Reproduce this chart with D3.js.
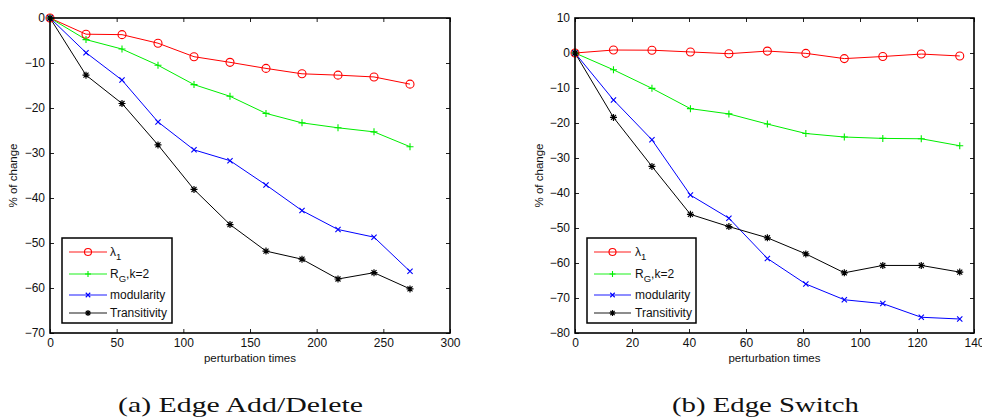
<!DOCTYPE html>
<html>
<head>
<meta charset="utf-8">
<script src="https://cdn.jsdelivr.net/npm/d3@7"></script>
<style>
  html, body { margin: 0; padding: 0; background: #fff; }
  svg { display: block; }
  text { font-family: "Liberation Sans", Arial, Helvetica, sans-serif; }
  .caption { font-family: "Liberation Serif", "DejaVu Serif", serif; }
</style>
</head>
<body>
<svg id="fig" width="982" height="418"></svg>
<script>
// ---- data: panel (a) edge add/delete ----
const addDelTimes = [0, 27, 54, 81, 108, 135, 162, 189, 216, 243, 270];
const addDelLambda = [0, -3.6, -3.7, -5.6, -8.6, -9.85, -11.2, -12.4, -12.7, -13.1, -14.7];
const addDelRG = [0, -4.8, -6.9, -10.5, -14.8, -17.4, -21.2, -23.3, -24.4, -25.3, -28.6];
const addDelModularity = [0, -7.7, -13.8, -23.1, -29.3, -31.7, -37.1, -42.8, -47.0, -48.7, -56.3];
const addDelTransitivity = [0, -12.7, -19.0, -28.2, -38.1, -45.9, -51.8, -53.6, -58.0, -56.6, -60.2];

// ---- data: panel (b) edge switch ----
const switchTimes = [0, 13.5, 27, 40.5, 54, 67.5, 81, 94.5, 108, 121.5, 135];
const switchLambda = [0, 0.85, 0.8, 0.3, -0.2, 0.55, -0.1, -1.6, -1.0, -0.3, -0.85];
const switchRG = [0, -4.8, -10.1, -15.9, -17.4, -20.3, -23.0, -24.0, -24.4, -24.5, -26.5];
const switchModularity = [0, -13.4, -24.8, -40.6, -47.2, -58.7, -66.0, -70.5, -71.6, -75.5, -76.0];
const switchTransitivity = [0, -18.4, -32.4, -46.1, -49.6, -52.8, -57.4, -62.8, -60.7, -60.7, -62.6];

// ---- axes ticks and labels ----
const addDelXTicks = [0, 50, 100, 150, 200, 250, 300];
const addDelYTicks = [0, -10, -20, -30, -40, -50, -60, -70];
const switchXTicks = [0, 20, 40, 60, 80, 100, 120, 140];
const switchYTicks = [10, 0, -10, -20, -30, -40, -50, -60, -70, -80];
const seriesNames = ["λ", "R", "modularity", "Transitivity"];
const seriesSubs = ["1", "G", null, null];
const seriesTails = ["", ",k=2", "", ""];
const seriesColors = ["#ff0000", "#00ee00", "#0000ff", "#000000"];
const seriesMarkers = ["circle", "plus", "cross", "star"];
const xLabel = "perturbation times";
const yLabel = "% of change";
const captions = ["(a) Edge Add/Delete", "(b) Edge Switch"];

const svg = d3.select("#fig");

function markerPath(kind, s) {
  const h = s / 2;
  if (kind === "plus") return `M${-h},0H${h}M0,${-h}V${h}`;
  if (kind === "cross") { const d = h * 0.75; return `M${-d},${-d}L${d},${d}M${-d},${d}L${d},${-d}`; }
  if (kind === "star") {
    const d = h * 0.72;
    return `M${-h},0H${h}M0,${-h}V${h}M${-d},${-d}L${d},${d}M${-d},${d}L${d},${-d}`;
  }
  return "";
}

function drawMarker(g, kind, color, x, y, size) {
  if (kind === "circle") {
    g.append("circle").attr("cx", x).attr("cy", y).attr("r", size / 2)
      .attr("fill", "none").attr("stroke", color).attr("stroke-width", 1.1);
  } else {
    g.append("path").attr("transform", `translate(${x},${y})`)
      .attr("d", markerPath(kind, size)).attr("fill", "none")
      .attr("stroke", color).attr("stroke-width", kind === "star" ? 1.2 : 1.1);
  }
}

function panel(opt) {
  const { left, right, top, bottom, xDomain, yDomain, xTicks, yTicks, times, series,
          legend, yLabelX, caption, captionX, captionW } = opt;
  const x = d3.scaleLinear().domain(xDomain).range([left, right]);
  const y = d3.scaleLinear().domain(yDomain).range([bottom, top]);
  const g = svg.append("g");

  const fmt = d3.format("d");
  const axB = g.append("g").attr("transform", `translate(0,${bottom})`)
    .call(d3.axisBottom(x).tickValues(xTicks).tickSize(-4).tickPadding(5).tickFormat(fmt));
  const axL = g.append("g").attr("transform", `translate(${left},0)`)
    .call(d3.axisLeft(y).tickValues(yTicks).tickSize(-4).tickPadding(5).tickFormat(fmt));
  const axT = g.append("g").attr("transform", `translate(0,${top})`)
    .call(d3.axisTop(x).tickValues(xTicks).tickSize(-4).tickFormat(""));
  const axR = g.append("g").attr("transform", `translate(${right},0)`)
    .call(d3.axisRight(y).tickValues(yTicks).tickSize(-4).tickFormat(""));
  [axB, axL, axT, axR].forEach(a => {
    a.select(".domain").remove();
    a.selectAll(".tick line").attr("stroke", "#222").attr("stroke-width", 1);
    a.selectAll(".tick text").attr("font-size", 12).attr("fill", "#111")
      .attr("font-family", "Liberation Sans, Arial, sans-serif");
  });

  // lines and markers
  series.forEach((vals, i) => {
    const pts = times.map((t, j) => [x(t), y(vals[j])]);
    g.append("path").attr("d", d3.line()(pts)).attr("fill", "none")
      .attr("stroke", seriesColors[i]).attr("stroke-width", 1);
  });
  series.forEach((vals, i) => {
    times.forEach((t, j) => drawMarker(g, seriesMarkers[i], seriesColors[i], x(t), y(vals[j]),
      seriesMarkers[i] === "circle" ? 8 : 7));
  });

  // frame
  g.append("rect").attr("x", left).attr("y", top).attr("width", right - left)
    .attr("height", bottom - top).attr("fill", "none").attr("stroke", "#000").attr("stroke-width", 1.6);

  // axis titles
  g.append("text").attr("x", (left + right) / 2).attr("y", bottom + 29)
    .attr("text-anchor", "middle").attr("font-size", 11.5).attr("fill", "#111").text(xLabel);
  g.append("text").attr("transform", `translate(${yLabelX},${(top + bottom) / 2}) rotate(-90)`)
    .attr("text-anchor", "middle").attr("font-size", 11.5).attr("fill", "#111").text(yLabel);

  // legend
  const lg = g.append("g");
  lg.append("rect").attr("x", legend.x0).attr("y", legend.y0)
    .attr("width", legend.x1 - legend.x0).attr("height", legend.y1 - legend.y0)
    .attr("fill", "#fff").attr("stroke", "#000").attr("stroke-width", 1.5);
  legend.rows.forEach((ry, i) => {
    lg.append("line").attr("x1", legend.lx0).attr("x2", legend.lx1).attr("y1", ry).attr("y2", ry)
      .attr("stroke", seriesColors[i]).attr("stroke-width", 1.6).attr("stroke-opacity", 0.6);
    drawMarker(lg, seriesMarkers[i], seriesColors[i], (legend.lx0 + legend.lx1) / 2, ry,
      seriesMarkers[i] === "circle" ? 7 : 6);
    const t = lg.append("text").attr("x", legend.tx).attr("y", ry + 4)
      .attr("font-size", 12).attr("fill", "#111");
    t.append("tspan").text(seriesNames[i]);
    if (seriesSubs[i]) {
      t.append("tspan").attr("dy", 4).attr("font-size", 9.5).text(seriesSubs[i]);
      if (seriesTails[i]) t.append("tspan").attr("dy", -4).text(seriesTails[i]);
    }
  });

  // caption
  svg.append("text").attr("class", "caption").attr("x", captionX).attr("y", 412)
    .attr("font-size", 21).attr("fill", "#111")
    .attr("textLength", captionW).attr("lengthAdjust", "spacingAndGlyphs").text(caption);
}

panel({
  left: 50, right: 450, top: 18, bottom: 333,
  xDomain: [0, 300], yDomain: [-70, 0], xTicks: addDelXTicks, yTicks: addDelYTicks,
  times: addDelTimes,
  series: [addDelLambda, addDelRG, addDelModularity, addDelTransitivity],
  legend: { x0: 62, x1: 172, y0: 238, y1: 323, lx0: 69, lx1: 107, tx: 110, rows: [252, 274, 295, 313] },
  yLabelX: 17, caption: captions[0], captionX: 118, captionW: 245
});

panel({
  left: 575, right: 974, top: 18, bottom: 333,
  xDomain: [0, 140], yDomain: [-80, 10], xTicks: switchXTicks, yTicks: switchYTicks,
  times: switchTimes,
  series: [switchLambda, switchRG, switchModularity, switchTransitivity],
  legend: { x0: 587, x1: 696, y0: 238, y1: 323, lx0: 594, lx1: 631, tx: 635, rows: [252, 274, 295, 313] },
  yLabelX: 543, caption: captions[1], captionX: 672, captionW: 187
});
</script>
</body>
</html>
